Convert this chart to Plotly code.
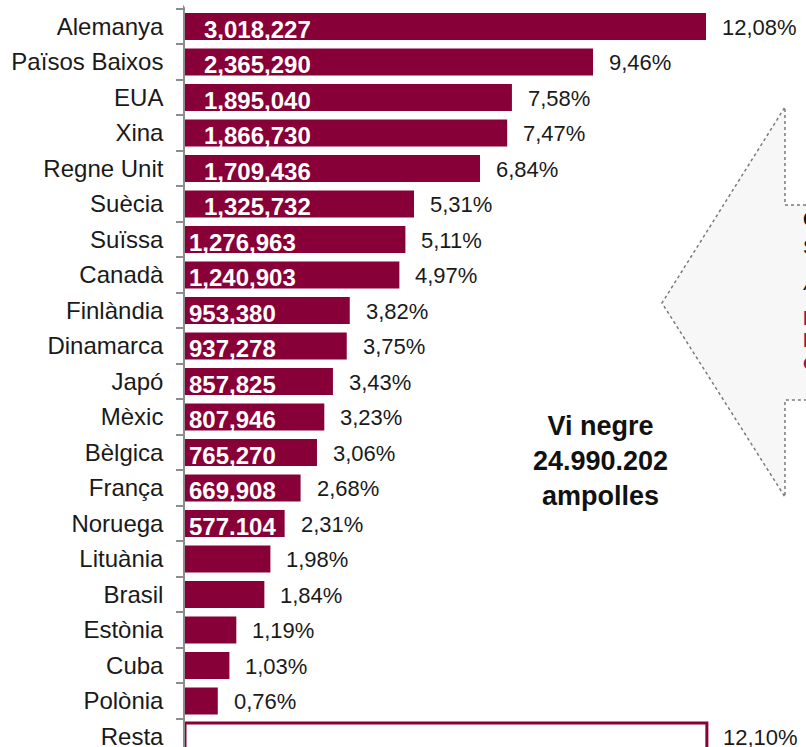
import plotly.graph_objects as go

countries = ["Alemanya", "Països Baixos", "EUA", "Xina", "Regne Unit", "Suècia", "Suïssa",
             "Canadà", "Finlàndia", "Dinamarca", "Japó", "Mèxic", "Bèlgica", "França",
             "Noruega", "Lituània", "Brasil", "Estònia", "Cuba", "Polònia", "Resta"]
shares = [12.08, 9.46, 7.58, 7.47, 6.84, 5.31, 5.11, 4.97, 3.82, 3.75, 3.43, 3.23, 3.06,
          2.68, 2.31, 1.98, 1.84, 1.19, 1.03, 0.76, 12.10]
share_labels = ["12,08%", "9,46%", "7,58%", "7,47%", "6,84%", "5,31%", "5,11%", "4,97%",
                "3,82%", "3,75%", "3,43%", "3,23%", "3,06%", "2,68%", "2,31%", "1,98%",
                "1,84%", "1,19%", "1,03%", "0,76%", "12,10%"]
bottles = ["3,018,227", "2,365,290", "1,895,040", "1,866,730", "1,709,436", "1,325,732",
           "1,276,963", "1,240,903", "953,380", "937,278", "857,825", "807,946", "765,270",
           "669,908", "577.104", "", "", "", "", "", ""]
total_title = "Vi negre<br>24.990.202<br>ampolles"

MAROON = "#880038"
FONT = "Liberation Sans, Arial, sans-serif"
W, H = 806, 747
L = 185

colors = [MAROON] * (len(countries) - 1) + ["white"]
line_w = [0] * (len(countries) - 1) + [3]

fig = go.Figure()
fig.add_trace(go.Bar(
    y=countries, x=shares, orientation="h",
    marker=dict(color=colors, line=dict(color=MAROON, width=line_w)),
    hoverinfo="skip",
))

ann = []
for i, (c, s, lab) in enumerate(zip(countries, shares, share_labels)):
    ann.append(dict(x=s, y=c, xref="x", yref="y", text=lab, showarrow=False,
                    xanchor="left", xshift=14, yshift=-1,
                    font=dict(family=FONT, size=22, color="#1a1a1a")))
for i, (c, b) in enumerate(zip(countries, bottles)):
    if b:
        ann.append(dict(x=0, y=c, xref="x", yref="y", text="<b>%s</b>" % b, showarrow=False,
                        xanchor="left", xshift=17 if i < 6 else 2, yshift=-3,
                        font=dict(family=FONT, size=24, color="white")))

def px(x):
    return (x - L) / (W - L)

def py(y):
    return 1 - y / H

ann.append(dict(x=px(600), y=py(461), xref="paper", yref="paper", text="<b>%s</b>" % total_title,
                showarrow=False, xanchor="center", yanchor="middle", align="center",
                font=dict(family=FONT, size=27, color="#111111")))

callout_lines = [("<b>Comerç</b>", "#111111", 219),
                 ("Sortides", "#111111", 247),
                 ("<i>Ampolles</i>", "#111111", 283),
                 ("<b>Països</b>", "#8b1a4a", 318),
                 ("<b>Principals</b>", "#8b1a4a", 340),
                 ("<b>compradors</b>", "#8b1a4a", 362)]
for txt, col, yy in callout_lines:
    ann.append(dict(x=px(801), y=py(yy), xref="paper", yref="paper", text=txt, showarrow=False,
                    xanchor="left", yanchor="middle",
                    font=dict(family=FONT, size=20, color=col)))

pts = [(812, 205), (785, 205), (785, 107), (662, 303), (785, 497), (785, 400), (812, 400)]
path = "M " + " L ".join("%.5f,%.5f" % (px(a), py(b)) for a, b in pts) + " Z"

fig.update_layout(
    width=W, height=H,
    margin=dict(l=L, r=0, t=0, b=0),
    paper_bgcolor="white", plot_bgcolor="white",
    showlegend=False,
    bargap=0.24,
    font=dict(family=FONT),
    xaxis=dict(visible=False, range=[0, (W - L) / 43.13], fixedrange=True),
    yaxis=dict(type="category", categoryorder="array", categoryarray=countries,
               range=[20.296, -0.746], showline=True, linecolor="#8c8c8c", linewidth=1.5,
               ticks="outside", tickson="boundaries", ticklen=7, tickcolor="#8c8c8c",
               tickwidth=1.5, ticklabelstandoff=15, showgrid=False, zeroline=False,
               automargin=False,
               tickfont=dict(family=FONT, size=24, color="#1a1a1a")),
    shapes=[dict(type="path", path=path, xref="paper", yref="paper",
                 fillcolor="#f7f7f7", line=dict(color="#7a7a7a", width=1.5, dash="dot"),
                 layer="below"),
            dict(type="line", xref="paper", yref="paper", x0=-0.004, x1=0.004,
                 y0=1.0, y1=py(8), line=dict(color="white", width=4), layer="above")],
    annotations=ann,
)

fig.write_html("out.html", config={"displayModeBar": False},
               post_script="document.body.style.margin='0';document.body.style.overflow='hidden';")
